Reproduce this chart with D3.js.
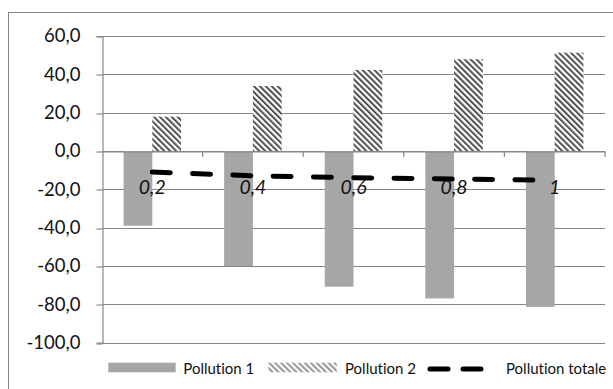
<!DOCTYPE html>
<html>
<head>
<meta charset="utf-8">
<script src="https://cdn.jsdelivr.net/npm/d3@7"></script>
<style>
  html, body { margin: 0; padding: 0; background: #fff; }
  svg { display: block; }
  text { font-variant-ligatures: none; font-feature-settings: "liga" 0, "clig" 0; }
</style>
</head>
<body>
<svg id="chart" width="613" height="389"></svg>
<script>
// ---- data ----
const categories = ["0,2", "0,4", "0,6", "0,8", "1"];
const pollution1 = [-39.0, -60.0, -70.8, -76.9, -81.3];
const pollution2 = [17.9, 33.9, 42.3, 47.9, 51.3];
const pollutionTotale = [-11.0, -12.9, -13.9, -14.6, -15.2];
const yTicks = [60, 40, 20, 0, -20, -40, -60, -80, -100];
const seriesNames = ["Pollution 1", "Pollution 2", "Pollution totale"];

const FONT = "Lato, 'Open Sans', sans-serif";
const GRID = "#868686";

const svg = d3.select("#chart");

// pattern for Pollution 2
const defs = svg.append("defs");
const pat = defs.append("pattern")
  .attr("id", "hatch")
  .attr("patternUnits", "userSpaceOnUse")
  .attr("width", 4.2).attr("height", 4.2)
  .attr("patternTransform", "rotate(-45)");
pat.append("rect").attr("width", 4.2).attr("height", 4.2).attr("fill", "#fff");
pat.append("rect").attr("width", 2.0).attr("height", 4.2).attr("fill", "#505050");

// outer frame (clipped at right/bottom)
svg.append("rect")
  .attr("x", 8.5).attr("y", 12.5)
  .attr("width", 640).attr("height", 420)
  .attr("fill", "#fff").attr("stroke", GRID).attr("stroke-width", 1);

const plot = { left: 102, right: 605, top: 36, bottom: 342.7 };

const x0 = d3.scaleBand().domain(categories).range([plot.left, plot.right]).padding(0);
const bw = x0.bandwidth();
const barW = bw / 3.5;
const x1 = d3.scaleBand().domain(["p1", "p2"]).range([0.75 * barW, bw - 0.75 * barW]).padding(0);
const y = d3.scaleLinear().domain([-100, 60]).range([plot.bottom, plot.top]);

// gridlines
svg.append("g").selectAll("line").data(yTicks).join("line")
  .attr("x1", plot.left).attr("x2", plot.right)
  .attr("y1", d => Math.round(y(d)) + 0.5).attr("y2", d => Math.round(y(d)) + 0.5)
  .attr("stroke", GRID).attr("stroke-width", 1.2);

// y axis
const yAxis = d3.axisLeft(y).tickValues(yTicks).tickSize(6).tickPadding(16)
  .tickFormat(d => d3.format(".1f")(d).replace(".", ",").replace("−", "-"));
const gy = svg.append("g").attr("transform", `translate(${plot.left + 0.5},0)`).call(yAxis);
gy.select(".domain").attr("stroke", GRID).attr("stroke-width", 1.2);
gy.selectAll(".tick line").attr("stroke", GRID).attr("stroke-width", 1.2)
  .attr("transform", d => `translate(0,${Math.round(y(d)) + 0.5 - y(d)})`);
gy.selectAll(".tick text").attr("font-family", FONT).attr("font-size", 18.5).attr("fill", "#111");

// bars
const g = svg.append("g");
g.selectAll("rect.p1").data(pollution1).join("rect").attr("class", "p1")
  .attr("x", (d, i) => x0(categories[i]) + x1("p1"))
  .attr("width", x1.bandwidth())
  .attr("y", d => y(Math.max(0, d)))
  .attr("height", d => Math.abs(y(d) - y(0)))
  .attr("fill", "#a6a6a6");
g.selectAll("rect.p2").data(pollution2).join("rect").attr("class", "p2")
  .attr("x", (d, i) => x0(categories[i]) + x1("p2"))
  .attr("width", x1.bandwidth())
  .attr("y", d => y(Math.max(0, d)))
  .attr("height", d => Math.abs(y(d) - y(0)))
  .attr("fill", "url(#hatch)");

// x axis at zero
const xAxis = d3.axisBottom(x0).tickSize(0).tickFormat("");
const gx = svg.append("g").attr("transform", `translate(0,${Math.round(y(0)) + 0.5})`).call(xAxis);
gx.select(".domain").attr("stroke", GRID).attr("stroke-width", 1.2);
gx.selectAll(".tick").remove();
// category boundary ticks
gx.selectAll("line.bt").data(categories).join("line").attr("class", "bt")
  .attr("x1", d => x0(d) + bw).attr("x2", d => x0(d) + bw)
  .attr("y1", 0).attr("y2", 5.5)
  .attr("stroke", GRID).attr("stroke-width", 1.2);

// line series
const line = d3.line()
  .x((d, i) => x0(categories[i]) + bw / 2)
  .y(d => y(d));
svg.append("path").datum(pollutionTotale)
  .attr("d", line)
  .attr("fill", "none").attr("stroke", "#000").attr("stroke-width", 5)
  .attr("stroke-linecap", "round")
  .attr("stroke-dasharray", "18,22.3");

// category labels (italic), drawn over the line like the reference
svg.append("g").selectAll("text").data(categories).join("text")
  .attr("x", d => x0(d) + bw / 2)
  .attr("y", 194)
  .attr("text-anchor", "middle")
  .attr("font-family", FONT).attr("font-style", "italic").attr("font-size", 19.5)
  .attr("fill", "#111")
  .text(d => d);

// legend
const leg = svg.append("g").attr("font-family", FONT).attr("font-size", 15).attr("fill", "#111");
leg.append("rect").attr("x", 108.3).attr("y", 362.7).attr("width", 67.4).attr("height", 9.6).attr("fill", "#a6a6a6");
leg.append("text").attr("x", 183.3).attr("y", 373.5).text(seriesNames[0]);
leg.append("rect").attr("x", 268.3).attr("y", 362.7).attr("width", 68.4).attr("height", 9.6).attr("fill", "url(#hatch)").attr("opacity", 0.6);
leg.append("text").attr("x", 345).attr("y", 373.5).text(seriesNames[1]);
leg.append("line").attr("x1", 430).attr("x2", 481).attr("y1", 369).attr("y2", 369)
  .attr("stroke", "#000").attr("stroke-width", 5).attr("stroke-linecap", "round")
  .attr("stroke-dasharray", "18,15");
leg.append("text").attr("x", 506).attr("y", 373.5).text(seriesNames[2]);
</script>
</body>
</html>
